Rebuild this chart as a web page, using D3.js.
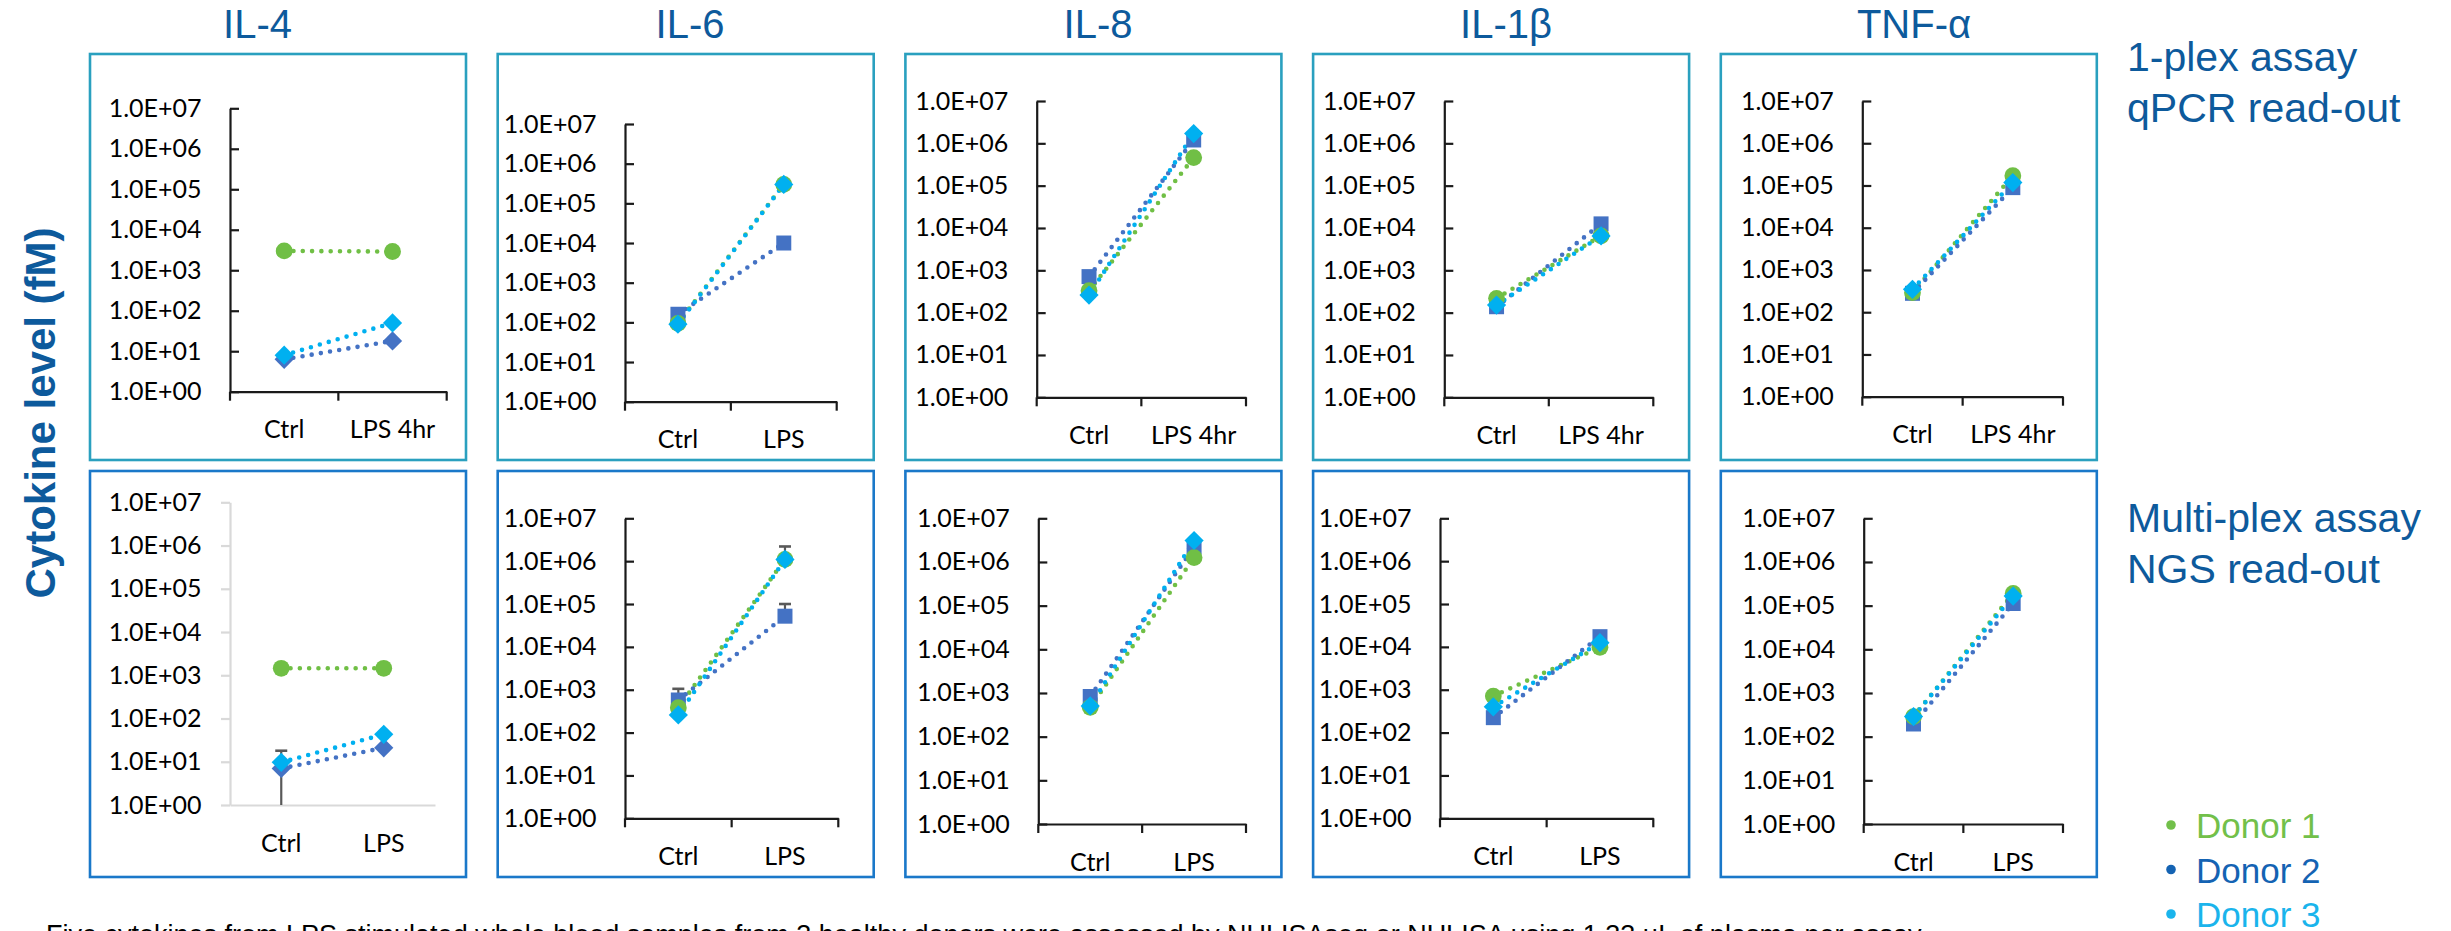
<!DOCTYPE html>
<html>
<head>
<meta charset="utf-8">
<script src="https://cdn.jsdelivr.net/npm/d3@7"></script>
<style>
  html, body { margin: 0; padding: 0; background: #fff; overflow: hidden; }
  svg { display: block; }
</style>
</head>
<body>
<svg id="chart" width="2451" height="931"></svg>
<script>
// ---- Data -------------------------------------------------------------
const cytokines = ["IL-4", "IL-6", "IL-8", "IL-1β", "TNF-α"];
const donors = ["Donor 1", "Donor 2", "Donor 3"];
const qpcrCategories = [
  ["Ctrl", "LPS 4hr"], ["Ctrl", "LPS"], ["Ctrl", "LPS 4hr"], ["Ctrl", "LPS 4hr"], ["Ctrl", "LPS 4hr"]
];
const ngsCategories = ["Ctrl", "LPS"];
const yTickValues = [1, 1e1, 1e2, 1e3, 1e4, 1e5, 1e6, 1e7];
const yTickLabels = ["1.0E+00", "1.0E+01", "1.0E+02", "1.0E+03", "1.0E+04", "1.0E+05", "1.0E+06", "1.0E+07"];
const rowLabels = [["1-plex assay", "qPCR read-out"], ["Multi-plex assay", "NGS read-out"]];
const yAxisTitle = "Cytokine level (fM)";
const caption = "Five cytokines from LPS stimulated whole blood samples from 3 healthy donors were assessed by NULISAseq or NULISA using 1.33 µL of plasma per assay";

// 1-plex assay, qPCR read-out (fM): [Ctrl, LPS] for each cytokine
const qpcrDonor1 = [[3000, 2900], [94, 300000], [330, 460000], [218, 6500], [290, 170000]];
const qpcrDonor2 = [[6.3, 18], [160, 10000], [710, 1200000], [138, 12500], [280, 89000]];
const qpcrDonor3 = [[8, 50], [90, 300000], [260, 1700000], [151, 6500], [348, 117000]];

// Multi-plex assay, NGS read-out (fM): [Ctrl, LPS] for each cytokine
const ngsDonor1 = [[1450, 1450], [380, 1100000], [470, 1260000], [710, 9800], [288, 190000]];
const ngsDonor2 = [[7, 21], [576, 52000], [830, 2200000], [223, 17300], [195, 112000]];
const ngsDonor3 = [[9.7, 43], [258, 1100000], [505, 3100000], [400, 12500], [288, 166000]];

// NGS error bars: [cytokine, donor, category, low, high]
const ngsErrorBars = [
  [0, 2, 0, 1, 18],
  [1, 1, 0, 576, 1050],
  [1, 0, 1, 1100000, 2200000],
  [1, 1, 1, 52000, 100000]
];

// ---- Styling ----------------------------------------------------------
const donorColors = ["#70bf45", "#4472c4", "#00b0f0"];
const legendColors = ["#72c04a", "#1463b3", "#1ab4ec"];
const titleColor = "#0d5a9c";
const labelFont = "Lato, 'Open Sans', sans-serif";
const textFont = "'Liberation Sans', Arial, sans-serif";
// marker shape per cytokine for Donor 2 (Donor 1 = circle, Donor 3 = diamond)
const donor2Shapes = ["diamond", "square", "square", "square", "square"];

// ---- Layout -----------------------------------------------------------
const boxW = 376;
const boxX = i => 90 + i * 407.7;
const rows = [
  { boxTop: 54, boxBottom: 460, border: "#2aa0bf",
    plots: [
      { x0: 230, x1: 446.7, y0: 391.7, y1: 108.3 },
      { x0: 625, x1: 836.7, y0: 401.7, y1: 124 },
      { x0: 1036.7, x1: 1246, y0: 397.3, y1: 101 },
      { x0: 1444.3, x1: 1653.3, y0: 397.3, y1: 101 },
      { x0: 1862.3, x1: 2063, y0: 396.7, y1: 101 }
    ] },
  { boxTop: 471, boxBottom: 877, border: "#1a78c9",
    plots: [
      { x0: 230, x1: 435, y0: 805, y1: 502.3, light: true },
      { x0: 625, x1: 838.3, y0: 818.3, y1: 518.3 },
      { x0: 1038.3, x1: 1246, y0: 824, y1: 518.3 },
      { x0: 1440, x1: 1653.3, y0: 818.3, y1: 518.3 },
      { x0: 1863.7, x1: 2063, y0: 824, y1: 518.3 }
    ] }
];
const titleX = [257.5, 690, 1098, 1506, 1914];

const svg = d3.select("#chart");

// cytokine titles
svg.selectAll("text.title").data(cytokines).join("text")
  .attr("class", "title")
  .attr("x", (d, i) => titleX[i]).attr("y", 38)
  .attr("text-anchor", "middle")
  .attr("font-family", textFont).attr("font-size", 40)
  .attr("fill", titleColor)
  .text(d => d);

// shared y-axis title
svg.append("text")
  .attr("transform", "translate(55,413) rotate(-90)")
  .attr("text-anchor", "middle")
  .attr("font-family", textFont).attr("font-size", 42).attr("font-weight", "bold")
  .attr("fill", titleColor)
  .text(yAxisTitle);

function markerPath(shape) {
  if (shape === "circle") return d3.symbol(d3.symbolCircle, Math.PI * 8.4 * 8.4)();
  if (shape === "square") return "M-7.5,-7.5H7.5V7.5H-7.5Z";
  return "M0,-9.6L9.6,0L0,9.6L-9.6,0Z";
}

const rowData = [
  { donors: [qpcrDonor1, qpcrDonor2, qpcrDonor3], cats: i => qpcrCategories[i], errors: [] },
  { donors: [ngsDonor1, ngsDonor2, ngsDonor3], cats: () => ngsCategories, errors: ngsErrorBars }
];

rows.forEach((row, r) => {
  const data = rowData[r];
  cytokines.forEach((name, i) => {
    const p = row.plots[i];
    const g = svg.append("g");

    // panel frame
    g.append("rect")
      .attr("x", boxX(i)).attr("y", row.boxTop)
      .attr("width", boxW).attr("height", row.boxBottom - row.boxTop)
      .attr("fill", "none").attr("stroke", row.border).attr("stroke-width", 2.6);

    const cats = data.cats(i);
    const x = d3.scaleBand().domain(cats).range([p.x0, p.x1]).padding(0);
    const y = d3.scaleLog().domain([1, 1e7]).range([p.y0, p.y1]);
    const axisColor = p.light ? "#d9d9d9" : "#1a1a1a";

    // y axis
    const yAxis = d3.axisLeft(y)
      .tickValues(yTickValues)
      .tickFormat((d, k) => yTickLabels[k])
      .tickSizeOuter(0)
      .tickSizeInner(p.light ? 9 : -9)
      .tickPadding(p.light ? 19.5 : 28.5);
    const ya = g.append("g").attr("transform", `translate(${p.x0},0)`).call(yAxis);
    ya.select(".domain").attr("stroke", axisColor).attr("stroke-width", 2.2);
    ya.selectAll(".tick line").attr("stroke", axisColor).attr("stroke-width", 2.2);
    ya.selectAll(".tick text").attr("font-family", labelFont).attr("font-size", 25).attr("fill", "#000");

    // x axis: labels at category centres, tick marks at category boundaries
    const xAxis = d3.axisBottom(x).tickSize(0).tickSizeOuter(0).tickPadding(28.8);
    const xa = g.append("g").attr("transform", `translate(0,${p.y0})`).call(xAxis);
    xa.select(".domain").attr("stroke", axisColor).attr("stroke-width", 2.2);
    xa.selectAll(".tick text").attr("font-family", labelFont).attr("font-size", 25).attr("fill", "#000");
    if (!p.light) {
      const edges = [x.range()[0], ...cats.map(c => x(c) + x.bandwidth())];
      g.selectAll("line.xtick").data(edges).join("line")
        .attr("x1", d => d).attr("x2", d => d)
        .attr("y1", p.y0).attr("y2", p.y0 + 9)
        .attr("stroke", axisColor).attr("stroke-width", 2.2);
    }

    const cx = c => x(cats[c]) + x.bandwidth() / 2;

    // dotted connecting lines per donor
    const line = d3.line().x((v, c) => cx(c)).y(v => y(v));
    data.donors.forEach((series, d) => {
      g.append("path")
        .attr("d", line(series[i]))
        .attr("fill", "none")
        .attr("stroke", donorColors[d])
        .attr("stroke-width", 4.6)
        .attr("stroke-linecap", "round")
        .attr("stroke-dasharray", "0 9.3");
    });

    // error bars
    data.errors.filter(e => e[0] === i).forEach(e => {
      const xc = cx(e[2]);
      g.append("line")
        .attr("x1", xc).attr("x2", xc).attr("y1", y(e[3])).attr("y2", y(e[4]))
        .attr("stroke", "#595959").attr("stroke-width", 2.2);
      g.append("line")
        .attr("x1", xc - 6).attr("x2", xc + 6).attr("y1", y(e[4])).attr("y2", y(e[4]))
        .attr("stroke", "#595959").attr("stroke-width", 2.6);
    });

    // markers (Donor 2 underneath, Donor 3 on top)
    [1, 0, 2].forEach(d => {
      const shape = d === 0 ? "circle" : d === 1 ? donor2Shapes[i] : "diamond";
      data.donors[d][i].forEach((v, c) => {
        g.append("path")
          .attr("d", markerPath(shape))
          .attr("transform", `translate(${cx(c)},${y(v)})`)
          .attr("fill", donorColors[d]);
      });
    });
  });
});

// row labels
const rowLabelY = [[70.7, 121.7], [531.7, 583.3]];
rowLabels.forEach((lines, r) => {
  lines.forEach((t, k) => {
    svg.append("text")
      .attr("x", 2127).attr("y", rowLabelY[r][k])
      .attr("font-family", textFont).attr("font-size", 41)
      .attr("fill", titleColor)
      .text(t);
  });
});

// legend
const legend = svg.append("g");
donors.forEach((name, d) => {
  const yb = 838 + d * 44.5;
  legend.append("circle").attr("cx", 2171).attr("cy", yb - 13).attr("r", 4.8).attr("fill", legendColors[d]);
  legend.append("text")
    .attr("x", 2196).attr("y", yb)
    .attr("font-family", textFont).attr("font-size", 35)
    .attr("fill", legendColors[d])
    .text(name);
});

// footnote (runs past the lower edge of the page)
svg.append("text")
  .attr("x", 46).attr("y", 944)
  .attr("font-family", textFont).attr("font-size", 27)
  .attr("fill", "#000")
  .text(caption);
</script>
</body>
</html>
